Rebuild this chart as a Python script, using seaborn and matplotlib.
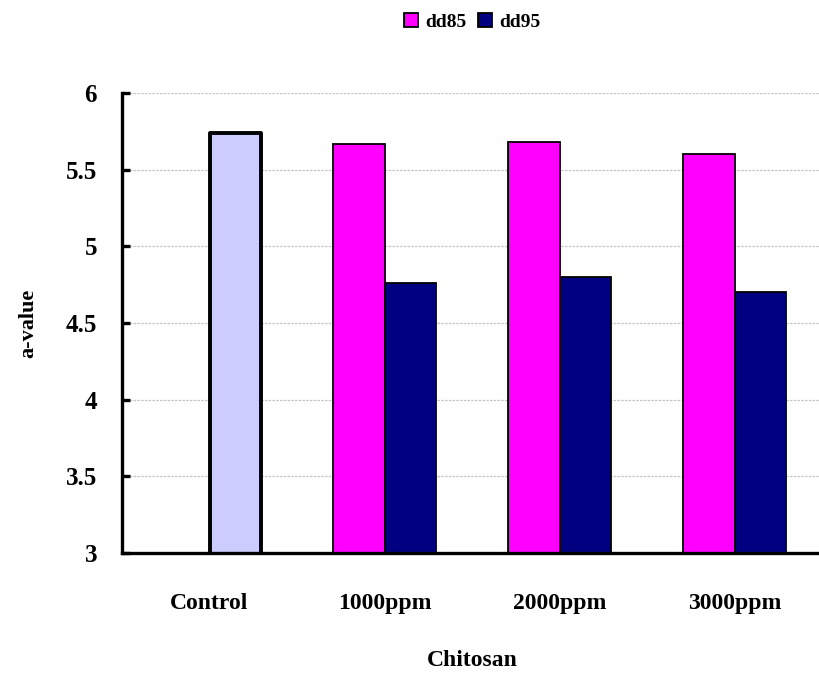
import numpy as np
import pandas as pd
import matplotlib
matplotlib.use("Agg")
import matplotlib.pyplot as plt
import seaborn as sns

# Data
categories = ["Control", "1000ppm", "2000ppm", "3000ppm"]
series_names = ["dd85", "dd95"]
control_value = 5.74
dd85_values = [np.nan, 5.67, 5.68, 5.60]
dd95_values = [control_value, 4.76, 4.80, 4.70]
y_ticks = [3, 3.5, 4, 4.5, 5, 5.5, 6]
y_tick_labels = ["3", "3.5", "4", "4.5", "5", "5.5", "6"]

df = pd.DataFrame({
    "Chitosan": categories * 2,
    "series": [series_names[0]] * 4 + [series_names[1]] * 4,
    "a-value": dd85_values + dd95_values,
})

sns.set_theme(style="white")
plt.rcParams["font.family"] = ["Liberation Serif", "DejaVu Serif"]
plt.rcParams["font.weight"] = "bold"
plt.rcParams["text.color"] = "black"
plt.rcParams["axes.labelcolor"] = "black"
plt.rcParams["xtick.color"] = "black"
plt.rcParams["ytick.color"] = "black"

fig = plt.figure(figsize=(8.19, 6.73), dpi=100)
ax = fig.add_axes([122 / 819, 1 - 553 / 673, 700 / 819, 460 / 673])

sns.barplot(
    data=df, x="Chitosan", y="a-value", hue="series",
    order=categories, hue_order=series_names,
    palette={"dd85": "#FF00FF", "dd95": "#000080"},
    width=0.585, edgecolor="black", linewidth=1.3, saturation=1,
    ax=ax,
)

# Control bar: light lavender with a heavy outline
ctrl_bar = min(ax.containers[1].patches, key=lambda p: p.get_x())
ctrl_bar.set_facecolor("#CCCCFF")
ctrl_bar.set_linewidth(2.8)
ctrl_bar.set_joinstyle("round")

ax.set_ylim(3, 6)
ax.set_xlim(-0.5, 3.5)
ax.set_yticks(y_ticks)
ax.set_yticklabels(y_tick_labels)
ax.yaxis.grid(True, color="#C4C4C4", linestyle=(0, (2, 1)), linewidth=0.9)
ax.set_axisbelow(True)

for side in ["top", "right"]:
    ax.spines[side].set_visible(False)
for side in ["left", "bottom"]:
    ax.spines[side].set_linewidth(2.4)
    ax.spines[side].set_color("black")

ax.set_xticks([0.5, 1.5, 2.5], minor=True)
ax.tick_params(axis="x", which="major", length=0, pad=29, labelsize=17,
               labelcolor="black")
ax.tick_params(axis="x", which="minor", direction="in", length=6, width=2, color="black")
ax.tick_params(axis="y", direction="in", length=6, width=2.4, color="black",
               pad=18, labelsize=18, left=True, labelcolor="black")
for lbl in ax.get_xticklabels() + ax.get_yticklabels():
    lbl.set_fontweight("bold")

ax.set_xlabel("Chitosan", fontsize=17, fontweight="bold", labelpad=26, color="black")
ax.set_ylabel("a-value", fontsize=16, fontweight="bold", labelpad=20, color="black")

sns.move_legend(
    ax, "center", bbox_to_anchor=(0.5, 1.155), ncol=2, title=None,
    frameon=False, handlelength=0.75, handleheight=0.75,
    handletextpad=0.35, columnspacing=0.6,
    prop={"weight": "bold", "size": 14},
)
for t in ax.get_legend().get_texts():
    t.set_color("black")

fig.savefig("out.png", dpi=100)
